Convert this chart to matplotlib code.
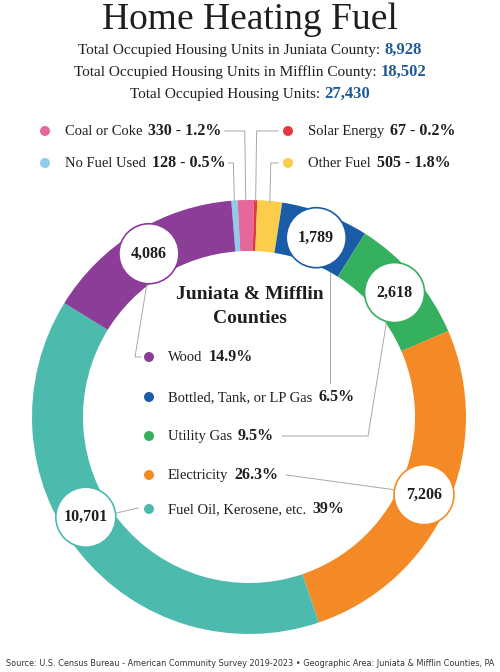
import matplotlib
matplotlib.use('Agg')
import numpy as np
import matplotlib.pyplot as plt
from matplotlib.patches import Circle
from matplotlib import font_manager

W, H = 500, 672

# data
fuels = ['No Fuel Used', 'Coal or Coke', 'Solar Energy', 'Other Fuel',
         'Bottled, Tank, or LP Gas', 'Utility Gas', 'Electricity',
         'Fuel Oil, Kerosene, etc.', 'Wood']
units = [128, 330, 67, 505, 1789, 2618, 7206, 10701, 4086]
pct_labels = ['0.5%', '1.2%', '0.2%', '1.8%', '6.5%', '9.5%', '26.3%', '39%', '14.9%']
colors = ['#8fcbea', '#e5679b', '#e03a3e', '#fbcd4b', '#1b5ca8',
          '#35b05e', '#f48a25', '#4dbaae', '#8b3d97']
county_names = ['Juniata County', 'Mifflin County']
county_units = [8928, 18502]
total_units = 27430

serif = ['Liberation Serif', 'DejaVu Serif']
plt.rcParams['font.family'] = serif
have = {f.name for f in font_manager.fontManager.ttflist}
narrow = 'Liberation Sans Narrow' if 'Liberation Sans Narrow' in have else 'DejaVu Sans'

dark = '#1e1e1e'
blue = '#1f5a97'
gray = '#a8a8a8'

fig = plt.figure(figsize=(5, 6.72), dpi=100)
ax = fig.add_axes([0, 0, 1, 1])

cx, cy, R, ring = 249, 417, 217, 51
# y axis is flipped below, so counterclock=True draws clockwise on screen
wedges, _ = ax.pie(units, colors=colors, startangle=-94.7, counterclock=True,
                   center=(cx, cy), radius=R,
                   wedgeprops=dict(width=ring, linewidth=0))
ax.set_xlim(0, W)
ax.set_ylim(H, 0)
ax.set_aspect('equal')
ax.axis('off')

r = fig.canvas.get_renderer()


def runs(x, y, parts, ha='left', gap=4):
    arts = []
    for s, kw in parts:
        arts.append(ax.text(0, y, s, va='baseline', **kw))
    ws = [t.get_window_extent(r).width for t in arts]
    total = sum(ws) + gap * (len(ws) - 1)
    start = x - total / 2 if ha == 'center' else x
    for t, w in zip(arts, ws):
        t.set_x(start)
        start += w + gap
    return start - gap


def line(pts):
    pts = np.array(pts)
    ax.plot(pts[:, 0], pts[:, 1], color=gray, lw=0.7, zorder=1)


# title and totals
ax.text(250, 29, 'Home Heating Fuel', ha='center', va='baseline',
        fontsize=27, color=dark)
ys = [54, 76, 98]
for i, (name, n) in enumerate(zip(county_names, county_units)):
    runs(250, ys[i], [('Total Occupied Housing Units in %s:' % name, dict(fontsize=11, color=dark)),
                      ('{:,}'.format(n), dict(fontsize=12, color=blue, fontweight='bold'))],
         ha='center', gap=4)
runs(250, ys[2], [('Total Occupied Housing Units:', dict(fontsize=11, color=dark)),
                  ('{:,}'.format(total_units), dict(fontsize=12, color=blue, fontweight='bold'))],
     ha='center', gap=4)

# mid angles (data degrees) and points
mids = [(w.theta1 + w.theta2) / 2 for w in wedges]


def pt(ang, rad):
    a = np.deg2rad(ang)
    return cx + rad * np.cos(a), cy + rad * np.sin(a)


# small categories legend at top
top_pos = {0: (45, 163), 1: (45, 131), 2: (288, 131), 3: (288, 163)}
for i, (dx, dy) in top_pos.items():
    ax.add_patch(Circle((dx, dy), 5, color=colors[i], lw=0, zorder=3))
    end = runs(dx + 20, dy + 4, [(fuels[i], dict(fontsize=10.5, color=dark)),
                                 ('%d - %s' % (units[i], pct_labels[i]),
                                  dict(fontsize=11.5, color=dark, fontweight='bold'))], gap=6)
    ox, oy = pt(mids[i], R)
    if dx < 200:
        line([(end + 3, dy), (ox - 1, dy), (ox, oy + 1)])
    else:
        line([(dx - 10, dy), (ox + 1, dy), (ox, oy + 1)])

# bubbles for the large categories
shift = {7: 7}
bub = {}
for i in range(len(units)):
    if units[i] / total_units < 0.05:
        continue
    bx, by = pt(mids[i] + shift.get(i, 0), R - ring / 2)
    bub[i] = (bx, by)
    ax.add_patch(Circle((bx, by), 30, facecolor='white', edgecolor=colors[i],
                        lw=1.2, zorder=4))
    ax.text(bx, by, '{:,}'.format(units[i]), ha='center', va='center',
            fontsize=11.5, fontweight='bold', color=dark, zorder=5)

# centre block
ax.text(250, 299, 'Juniata & Mifflin', ha='center', va='baseline',
        fontsize=14, fontweight='bold', color=dark)
ax.text(250, 323, 'Counties', ha='center', va='baseline',
        fontsize=14, fontweight='bold', color=dark)

inner = {8: 357, 4: 397, 5: 436, 6: 475, 7: 509}
ends = {}
for i, y in inner.items():
    ax.add_patch(Circle((149, y), 5, color=colors[i], lw=0, zorder=3))
    ends[i] = runs(168, y + 4, [(fuels[i], dict(fontsize=10.5, color=dark)),
                                (pct_labels[i], dict(fontsize=11.5, color=dark, fontweight='bold'))],
                   gap=6)

# leader lines to the bubbles
bx, by = bub[8]
line([(bx - 2, by + 30), (135, inner[8]), (141, inner[8])])
line([(330, 272), (330, inner[4] - 14)])
bx, by = bub[5]
line([(bx - 8, by + 29), (368, inner[5]), (ends[5] + 8, inner[5])])
bx, by = bub[6]
line([(ends[6] + 8, inner[6]), (bx - 30, by - 5)])
bx, by = bub[7]
line([(bx + 30, by - 4), (138, inner[7] - 1)])

# source
src = ax.text(250, 666, 'Source: U.S. Census Bureau - American Community Survey 2019-2023 \u2022 '
              'Geographic Area: Juniata & Mifflin Counties, PA',
              ha='center', va='baseline', fontsize=9, color='#333333', family=narrow,
              fontstretch='condensed')
w = src.get_window_extent(r).width
src.set_fontsize(9 * 490 / w)

fig.savefig('out.png', dpi=100, facecolor='white')
